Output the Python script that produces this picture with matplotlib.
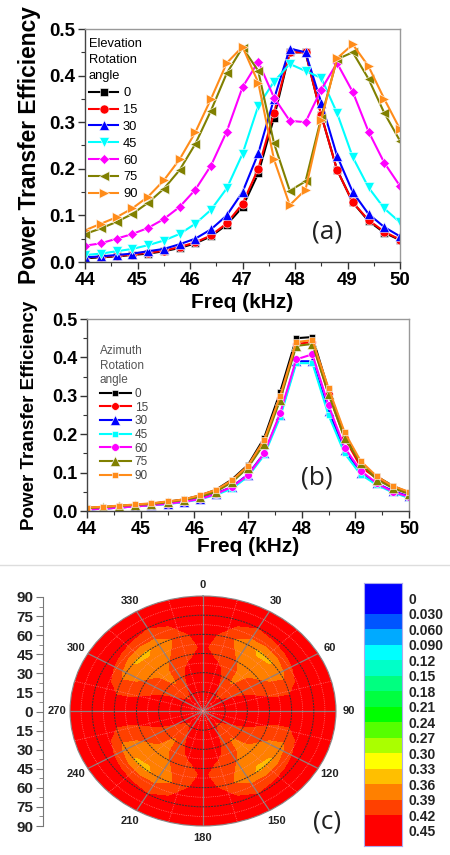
import numpy as np
import matplotlib
matplotlib.use('Agg')
import matplotlib.pyplot as plt
from matplotlib.lines import Line2D

W, H = 450, 855

freq = [44, 44.3, 44.6, 44.9, 45.2, 45.5, 45.8, 46.1, 46.4, 46.7, 47, 47.3, 47.6, 47.9, 48.2, 48.5, 48.8, 49.1, 49.4, 49.7, 50]
angles = ['0', '15', '30', '45', '60', '75', '90']

elev_0 = [.008, .01, .012, .015, .018, .023, .03, .04, .055, .08, .118, .19, .31, .45, .45, .315, .198, .128, .088, .063, .047]
elev_15 = [.01, .011, .013, .016, .02, .024, .032, .042, .057, .083, .125, .2, .32, .45, .45, .315, .198, .128, .09, .065, .048]
elev_30 = [.01, .012, .015, .018, .023, .028, .038, .05, .07, .1, .15, .233, .35, .458, .45, .342, .228, .15, .103, .075, .055]
elev_45 = [.015, .018, .023, .028, .036, .046, .06, .082, .112, .158, .232, .335, .387, .425, .41, .395, .32, .225, .16, .115, .085]
elev_60 = [.035, .04, .05, .06, .073, .092, .118, .155, .207, .28, .375, .43, .353, .303, .3, .37, .427, .365, .28, .213, .163]
elev_75 = [.06, .072, .086, .103, .127, .157, .197, .253, .325, .405, .46, .41, .255, .153, .173, .31, .435, .45, .393, .32, .26]
elev_90 = [.068, .082, .096, .115, .14, .175, .22, .278, .35, .427, .462, .385, .22, .122, .155, .305, .437, .467, .42, .35, .285]

azim_0 = [.008, .01, .013, .016, .019, .024, .03, .04, .055, .082, .12, .19, .31, .45, .453, .315, .2, .12, .09, .065, .048]
azim_15 = [.006, .009, .012, .015, .018, .023, .029, .038, .052, .078, .115, .18, .295, .435, .44, .305, .19, .115, .085, .06, .045]
azim_30 = [.004, .006, .009, .012, .015, .019, .024, .032, .045, .063, .095, .15, .25, .39, .39, .26, .16, .1, .072, .052, .038]
azim_45 = [.004, .006, .009, .012, .015, .018, .023, .03, .042, .058, .09, .145, .245, .385, .385, .25, .15, .095, .068, .048, .034]
azim_60 = [.004, .006, .009, .012, .015, .019, .024, .031, .044, .063, .093, .15, .255, .395, .408, .275, .165, .105, .072, .05, .037]
azim_75 = [.007, .01, .013, .016, .018, .023, .029, .037, .05, .075, .113, .175, .29, .43, .435, .305, .19, .125, .082, .06, .045]
azim_90 = [.009, .011, .014, .017, .02, .025, .03, .041, .055, .08, .118, .185, .3, .44, .445, .32, .205, .13, .09, .065, .05]

# polar map, one quadrant, the others mirror it
elevation = [0, 10, 20, 30, 40, 50, 60, 70, 80, 90]
rotation = [0, 10, 20, 30, 40, 50, 60, 70, 80, 90]
quad_0 = [.425, .43, .435, .435, .435, .425, .43, .44, .445, .45]
quad_10 = [.425, .425, .43, .43, .423, .41, .418, .43, .445, .45]
quad_20 = [.425, .425, .425, .425, .415, .40, .39, .418, .44, .45]
quad_30 = [.425, .425, .42, .41, .40, .38, .37, .405, .435, .45]
quad_40 = [.425, .425, .40, .385, .38, .37, .352, .41, .44, .45]
quad_50 = [.425, .425, .41, .395, .39, .375, .354, .415, .44, .45]
quad_60 = [.425, .425, .42, .41, .40, .385, .375, .42, .44, .45]
quad_70 = [.425, .43, .43, .425, .415, .40, .40, .43, .445, .45]
quad_80 = [.425, .43, .43, .43, .43, .425, .425, .435, .445, .45]
quad_90 = [.425, .43, .435, .44, .44, .44, .44, .44, .445, .45]

cbar_labels = ['0', '0.030', '0.060', '0.090', '0.12', '0.15', '0.18', '0.21', '0.24', '0.27', '0.30', '0.33', '0.36', '0.39', '0.42', '0.45']
cbar_colors = ['#0000ff', '#0055ff', '#00aaff', '#00ffff', '#00ffc8', '#00ff80', '#00ff40', '#00ff00', '#55ff00', '#aaff00',
               '#ffff00', '#ffbf00', '#ff8000', '#ff4000', '#ff0000']
levels = [0, .03, .06, .09, .12, .15, .18, .21, .24, .27, .30, .33, .36, .39, .42, .48]
scale_ticks = [-90, -75, -60, -45, -30, -15, 0, 15, 30, 45, 60, 75, 90]

plt.rcParams['font.family'] = ['Liberation Sans', 'DejaVu Sans']


def px_axes(left, top, right, bottom, **kw):
    return fig.add_axes([left / W, 1 - bottom / H, (right - left) / W, (bottom - top) / H], **kw)


def curves(ax, series, markers, sizes, fsize, legend_title, handle):
    colors = ['black', 'red', 'blue', 'cyan', 'magenta', '#808000', '#ff8c1a']
    for s, c, m, ms, a in zip(series, colors, markers, sizes, angles):
        ax.plot(freq, s, color=c, marker=m, ms=ms, lw=1.5, mec='white', mew=0.4, mfc=c, label=a)
    ax.set_xlim(44, 50)
    ax.set_ylim(0, 0.5)
    ax.set_xticks([44, 45, 46, 47, 48, 49, 50])
    ax.set_yticks([0, .1, .2, .3, .4, .5])
    ax.set_xticks(np.arange(44.5, 50, 1), minor=True)
    ax.set_yticks(np.arange(.05, .5, .1), minor=True)
    ax.tick_params(which='major', length=5, width=1, labelsize=fsize, pad=2, color='#333333')
    ax.tick_params(which='minor', length=3, width=0.8, color='#333333')
    for t in ax.get_xticklabels() + ax.get_yticklabels():
        t.set_fontweight('bold')
    for side in ['top', 'right']:
        ax.spines[side].set_color('#999999')
    for side in ['left', 'bottom']:
        ax.spines[side].set_color('#444444')
    for sp in ax.spines.values():
        sp.set_linewidth(1.0)
    leg = ax.legend(title=legend_title, frameon=False, alignment='left', **handle)
    return leg


fig = plt.figure(figsize=(W / 100, H / 100), dpi=100)

# panel a
ax_a = px_axes(85, 29, 400, 262)
leg = curves(ax_a, [elev_0, elev_15, elev_30, elev_45, elev_60, elev_75, elev_90],
             ['s', 'o', '^', 'v', 'D', '<', '>'], [5.5, 6.5, 7.5, 7.5, 5.5, 7.5, 7.5], 13.5, 'Elevation\nRotation\nangle',
             dict(loc='upper left', bbox_to_anchor=(0.012, 0.96), borderaxespad=0, borderpad=0, fontsize=9.3, title_fontsize=9.3,
                  labelspacing=0.37, handlelength=2.3, handletextpad=0.35))
leg.get_title().set_linespacing(1.45)
ax_a.set_ylabel('Power Transfer Efficiency', fontsize=16.4, fontweight='bold', labelpad=6)
fig.text(242 / W, 1 - 302 / H, 'Freq (kHz)', fontsize=15, fontweight='bold', ha='center', va='center')
fig.text(327 / W, 1 - 232 / H, '(a)', fontsize=19, family='Open Sans', ha='center', va='center', color='#222222')

# panel b
ax_b = px_axes(87, 319, 409, 511)
leg = curves(ax_b, [azim_0, azim_15, azim_30, azim_45, azim_60, azim_75, azim_90],
             ['s', 'o', '^', 's', 'o', '^', 's'], [5, 5.5, 6.5, 5, 5.5, 6.5, 5], 13, 'Azimuth\nRotation\nangle',
             dict(loc='upper left', bbox_to_anchor=(0.04, 0.865), borderaxespad=0, borderpad=0, fontsize=8.5, title_fontsize=8.5,
                  labelspacing=0.14, handlelength=2.6, handletextpad=0.35))
leg.get_title().set_color('#555555')
leg.get_title().set_linespacing(1.3)
for t in leg.get_texts():
    t.set_color('#444444')
ax_b.set_ylabel('Power Transfer Efficiency', fontsize=13.5, fontweight='bold', labelpad=10)
fig.text(248 / W, 1 - 546 / H, 'Freq (kHz)', fontsize=15, fontweight='bold', ha='center', va='center')
fig.text(317 / W, 1 - 478 / H, '(b)', fontsize=19, family='Open Sans', ha='center', va='center', color='#222222')

fig.add_artist(Line2D([0, 1], [1 - 565 / H, 1 - 565 / H], color='#dddddd', lw=1))

# panel c, polar map
ax_c = px_axes(70, 596, 336, 826, projection='polar')
ax_c.set_aspect('auto')
ax_c.set_theta_zero_location('N')
ax_c.set_theta_direction(-1)
quad = np.array([quad_0, quad_10, quad_20, quad_30, quad_40, quad_50, quad_60, quad_70, quad_80, quad_90])
half = np.concatenate([quad, quad[::-1][1:]])
full = np.concatenate([half, half[::-1][1:]])
rot_half = list(rotation) + [180 - t for t in rotation[::-1][1:]]
rot_full = rot_half + [360 - t for t in rot_half[::-1][1:]]
ax_c.contourf(np.radians(rot_full), elevation, full.T, levels=levels, colors=cbar_colors)
ax_c.set_ylim(0, 90)
ax_c.set_axisbelow(False)
ax_c.set_xticks(np.radians(np.arange(0, 360, 30)))
ax_c.set_xticklabels([])
ax_c.set_xticks(np.radians(np.arange(15, 360, 30)), minor=True)
ax_c.set_yticks([15, 30, 45, 60, 75])
ax_c.set_yticklabels([])
ax_c.set_yticks([7.5, 22.5, 37.5, 52.5, 67.5, 82.5], minor=True)
ax_c.tick_params(which='both', length=0)
ax_c.xaxis.grid(True, which='major', color='#8f7f7f', lw=0.9, ls='-')
ax_c.yaxis.grid(True, which='major', color='#333333', lw=0.7, ls=(0, (2, 1)))
ax_c.xaxis.grid(True, which='minor', color='#ff9090', lw=0.5, ls=':')
ax_c.yaxis.grid(True, which='minor', color='#ff9090', lw=0.5, ls=':')
ax_c.spines['polar'].set_color('#888888')
for a in range(0, 360, 30):
    ax_c.text(np.radians(a), 99, str(a), fontsize=8, fontweight='bold', ha='center', va='center', color='#222222', clip_on=False)

# left scale of panel c
ax_s = px_axes(43, 597, 44, 826)
ax_s.set_ylim(-90, 90)
ax_s.set_xticks([])
ax_s.set_yticks(scale_ticks)
ax_s.set_yticklabels([str(abs(t)) for t in scale_ticks], fontsize=11, fontweight='bold', color='#222222')
ax_s.set_yticks(np.arange(-82.5, 90, 15), minor=True)
ax_s.tick_params(which='major', length=5, width=0.8, pad=2, color='#777777')
ax_s.tick_params(which='minor', length=3, width=0.6, color='#777777')
for side in ['top', 'right', 'bottom']:
    ax_s.spines[side].set_visible(False)
ax_s.spines['left'].set_color('#777777')
ax_s.patch.set_visible(False)

# colour bar
ax_k = px_axes(364, 583, 402, 846)
edges = [-1] + list(range(1, 15)) + [16]
ax_k.barh(edges[:-1], [1] * 15, height=np.diff(edges), align='edge', color=cbar_colors)
ax_k.set_xlim(0, 1)
ax_k.set_ylim(16, -1)
ax_k.set_xticks([])
ax_k.set_yticks(range(16))
ax_k.set_yticklabels(cbar_labels, fontsize=10, fontweight='bold', color='#222222')
ax_k.yaxis.tick_right()
ax_k.tick_params(length=0, pad=5)
for sp in ax_k.spines.values():
    sp.set_color('#aaaaee')
    sp.set_linewidth(0.8)

fig.text(327 / W, 1 - 822 / H, '(c)', fontsize=19, family='Open Sans', ha='center', va='center', color='#222222')

fig.savefig('out.png', dpi=100)
